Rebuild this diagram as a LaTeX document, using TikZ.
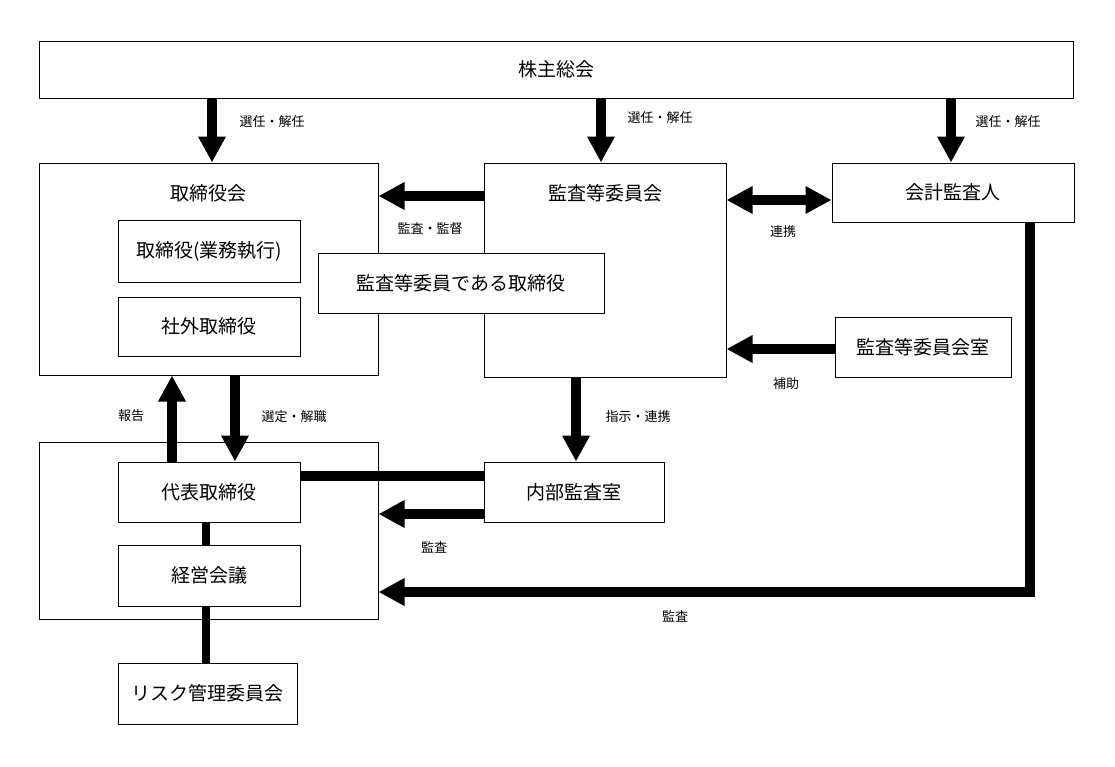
\documentclass[tikz,border=0pt]{standalone}
\usepackage{fontspec}
\setmainfont{Noto Sans CJK JP}
\usetikzlibrary{arrows.meta}
\begin{document}
\begin{tikzpicture}[x=1pt,y=-1pt,
  box/.style={draw, fill=white, line width=1pt, inner sep=0pt, font=\fontsize{19}{22}\selectfont},
  ttl/.style={inner sep=0pt, font=\fontsize{19}{22}\selectfont},
  lbl/.style={inner sep=0pt, font=\fontsize{13}{15}\selectfont},
  arr/.style={line width=10pt, -{Triangle[width=26pt,length=26pt]}},
  arrtwo/.style={line width=10pt, {Triangle[width=26pt,length=26pt]}-{Triangle[width=26pt,length=26pt]}},
  bar/.style={line width=10pt},
  thinbar/.style={line width=8pt}]
\useasboundingbox (0,0) rectangle (1115,766);
% boxes
\node[box, minimum width=1034pt, minimum height=57pt] (kabu) at (556,69.5) {株主総会};
\node[box, minimum width=339pt, minimum height=212pt] (torikai) at (208.5,269) {};
\node[ttl] (torikaittl) at (208,193) {取締役会};
\node[box, minimum width=182pt, minimum height=62pt] (gyomu) at (209,251) {取締役(業務執行)};
\node[box, minimum width=182pt, minimum height=59pt] (shagai) at (209,326.5) {社外取締役};
\node[box, minimum width=242pt, minimum height=214pt] (kansakai) at (605,270) {};
\node[ttl] (kansakaittl) at (605,193) {監査等委員会};
\node[box, minimum width=286pt, minimum height=60pt] (kansatori) at (461,283) {監査等委員である取締役};
\node[box, minimum width=242pt, minimum height=59pt] (kaikei) at (953,192.5) {会計監査人};
\node[box, minimum width=176pt, minimum height=60pt] (kshitsu) at (923,347) {監査等委員会室};
\node[box, minimum width=180pt, minimum height=60pt] (naibu) at (574,492) {内部監査室};
\node[box, minimum width=339pt, minimum height=177pt] (lower) at (208.5,530.5) {};
\node[box, minimum width=182pt, minimum height=60pt] (daihyo) at (209,492) {代表取締役};
\node[box, minimum width=182pt, minimum height=61pt] (keiei) at (209,575.5) {経営会議};
\node[box, minimum width=179pt, minimum height=61pt] (risk) at (207.5,693.5) {リスク管理委員会};
% connectors
\draw[arr] (212,0 |- kabu.south) -- (212,0 |- torikai.north);
\draw[arr] (601,0 |- kabu.south) -- (601,0 |- kansakai.north);
\draw[arr] (951,0 |- kabu.south) -- (951,0 |- kaikei.north);
\draw[arr] (kansakai.west |- 0,196) -- (torikai.east |- 0,196);
\draw[arrtwo] (kansakai.east |- 0,200) -- (kaikei.west |- 0,200);
\draw[arr] (kshitsu.west |- 0,349) -- (kansakai.east |- 0,349);
\draw[arr] (576,0 |- kansakai.south) -- (576,0 |- naibu.north);
\draw[arr] (172,0 |- daihyo.north) -- (172,0 |- torikai.south);
\draw[arr] (235,0 |- torikai.south) -- (235,0 |- daihyo.north);
\draw[bar] (daihyo.east |- 0,476) -- (naibu.west |- 0,476);
\draw[arr] (naibu.west |- 0,514) -- (lower.east |- 0,514);
\draw[thinbar] (206,0 |- daihyo.south) -- (206,0 |- keiei.north);
\draw[thinbar] (206,0 |- keiei.south) -- (206,0 |- risk.north);
\coordinate (bend) at (1030,592);
\draw[arr, line join=miter] (1030,0 |- kaikei.south) -- (bend) -- (lower.east |- bend);
% labels
\node[lbl] (l1) at (272,122) {選任・解任};
\node[lbl] (l2) at (660,118) {選任・解任};
\node[lbl] (l3) at (1008,122) {選任・解任};
\node[lbl] (l4) at (430,229) {監査・監督};
\node[lbl] (l5) at (783,232) {連携};
\node[lbl] (l6) at (786,384) {補助};
\node[lbl] (l7) at (638,417) {指示・連携};
\node[lbl] (l8) at (131,416) {報告};
\node[lbl] (l9) at (294,417) {選定・解職};
\node[lbl] (l10) at (434,547) {監査};
\node[lbl] (l11) at (675,616) {監査};
\end{tikzpicture}
\end{document}
